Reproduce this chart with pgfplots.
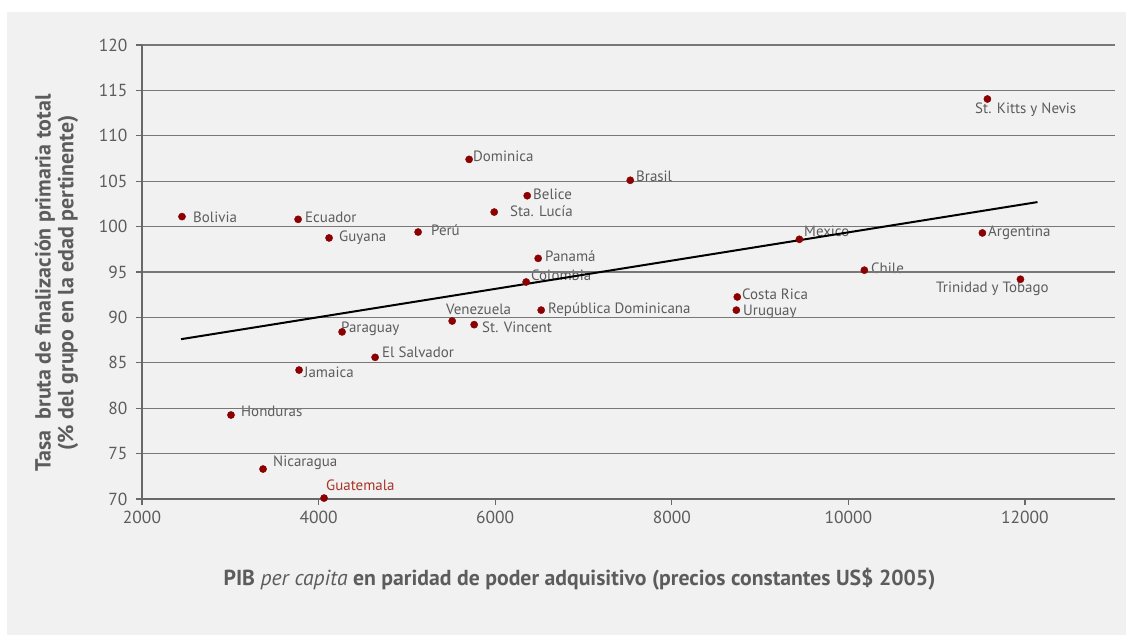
\documentclass[border=0pt]{standalone}
\usepackage{pgfplots}
\pgfplotsset{compat=1.18}
\usepackage{fontspec}
\setmainfont{PT Sans}

\definecolor{fondo}{RGB}{241,241,241}
\definecolor{texto}{RGB}{92,92,92}
\definecolor{ejes}{RGB}{105,105,105}
\definecolor{rejilla}{RGB}{120,120,120}
\definecolor{punto}{RGB}{139,0,0}
\definecolor{guate}{RGB}{168,52,40}

\begin{document}
\begin{tikzpicture}[x=1bp,y=1bp]
% fondo
\path[use as bounding box, fill=white] (-142,-136) rectangle (984,499);
\fill[fondo] (-135,-136) rectangle (984,487);

% etiquetas de los paises
\begin{scope}[every node/.style={anchor=base west, inner sep=0pt, text=texto, font=\fontsize{15}{17}\selectfont}]
\node at (51,276) {Bolivia};
\node at (163,276) {Ecuador};
\node at (197,257) {Guyana};
\node at (289,263) {Perú};
\node at (331,337) {Dominica};
\node at (391,299) {Belice};
\node at (368,282) {Sta. Lucía};
\node at (494,317) {Brasil};
\node at (403,237) {Panamá};
\node at (389,218) {Colombia};
\node at (406,185) {República Dominicana};
\node at (304,184) {Venezuela};
\node at (340,166) {St. Vincent};
\node at (199,166) {Paraguay};
\node at (240,141) {El Salvador};
\node at (162,121) {Jamaica};
\node at (99,82) {Honduras};
\node at (131,32) {Nicaragua};
\node[text=guate] at (184,8) {Guatemala};
\node at (662,262) {Mexico};
\node at (846,262) {Argentina};
\node at (729,225) {Chile};
\node at (600,199) {Costa Rica};
\node at (601,183) {Uruguay};
\node at (833,385) {St. Kitts y Nevis};
\node at (794,206) {Trinidad y Tobago};
\end{scope}

\begin{axis}[
  at={(0,0)}, anchor=south west,
  scale only axis,
  width=973bp, height=454bp,
  xmin=2000, xmax=13020,
  ymin=70, ymax=120,
  axis x line=bottom, axis y line=left,
  axis line style={draw=ejes, line width=2.4bp, -},
  xtick={2000,4000,...,12000},
  ytick={70,75,...,120},
  scaled x ticks=false,
  ymajorgrids,
  major grid style={draw=rejilla, line width=1.1bp},
  major tick length=6bp,
  xtick align=outside, ytick align=outside,
  major tick style={draw=ejes, line width=1.2bp},
  xticklabel style={text=texto, font=\fontsize{17.5}{20}\selectfont, yshift=-3bp},
  yticklabel style={text=texto, font=\fontsize{17.5}{20}\selectfont, xshift=-5bp},
  /pgf/number format/assume math mode=true,
  /pgf/number format/1000 sep={},
  clip=false,
]
% linea de tendencia
\addplot[black, line width=2bp] coordinates {(2442,87.6) (12142,102.7)};
% paises
\addplot[only marks, mark=*, mark size=3.6bp, mark options={draw=punto, fill=punto}] coordinates {
(2453,101.1) (3768,100.8) (4119,98.75) (5127,99.4) (5705,107.4)
(6363,103.4) (5989,101.6) (7530,105.1) (6487,96.5) (6351,93.9)
(6521,90.8) (5513,89.6) (5762,89.2) (4266,88.4) (4640,85.6)
(3779,84.2) (3008,79.25) (3371,73.3) (4062,70.1) (8742,92.25)
(8731,90.8) (9445,98.6) (10181,95.2) (11518,99.3) (11575,114.05)
(11949,94.2)
};
\end{axis}

% titulos de los ejes
\node[text=texto, font=\bfseries\fontsize{21.8}{24}\selectfont, anchor=base] at (437.5,-87)
  {PIB \textmd{\itshape per capita} en paridad de poder adquisitivo (precios constantes US\$ 2005)};
\node[text=texto, font=\bfseries\fontsize{22}{23}\selectfont, rotate=90, align=center] at (-85.5,216)
  {Tasa\ \ bruta de finalización primaria total\\(\% del grupo en la edad pertinente)};
\end{tikzpicture}
\end{document}
